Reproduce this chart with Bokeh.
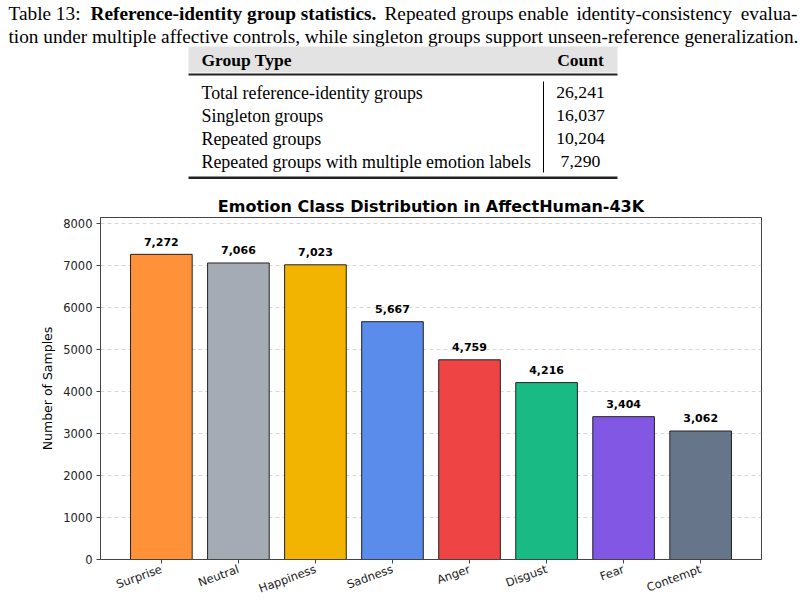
from bokeh.plotting import figure
from bokeh.models import Range1d, FixedTicker, ColumnDataSource
from bokeh.core.properties import value
from bokeh.embed import file_html
from bokeh.resources import INLINE

# ---- data ----
caption_label = "Table 13:"
caption_bold = "Reference-identity group statistics."
caption_rest1 = ["Repeated groups enable", "identity-consistency", "evalua-"]
caption_line2 = "tion under multiple affective controls, while singleton groups support unseen-reference generalization."

table_header = ["Group Type", "Count"]
group_types = ["Total reference-identity groups", "Singleton groups",
               "Repeated groups", "Repeated groups with multiple emotion labels"]
group_counts = [26241, 16037, 10204, 7290]

emotions = ["Surprise", "Neutral", "Happiness", "Sadness", "Anger", "Disgust", "Fear", "Contempt"]
samples = [7272, 7066, 7023, 5667, 4759, 4216, 3404, 3062]
colors = ["#FF9238", "#A5ABB5", "#F2B400", "#5A8CEB", "#EF4444", "#1ABA85", "#8257E3", "#66758A"]
y_ticks = [0, 1000, 2000, 3000, 4000, 5000, 6000, 7000, 8000]

chart_title = "Emotion Class Distribution in AffectHuman-43K"
y_label = "Number of Samples"

SERIF = value("Liberation Serif")
SANS = "DejaVu Sans"

# ---- top: caption + table (own root, pixel-like coordinates) ----
top = figure(width=808, height=190, x_range=Range1d(0, 808), y_range=Range1d(190, 0),
             min_border=0, outline_line_color=None, toolbar_location=None,
             output_backend="svg")
top.axis.visible = False
top.grid.visible = False


def t(x, y, text, size, style="normal", align="left"):
    top.text(x=[x], y=[y], text=[text], text_font=SERIF, text_font_size=size,
             text_font_style=style, text_align=align, text_baseline="middle",
             text_color="black")


# justified first caption line, set in chunks
t(8, 13, caption_label, "19.3px")
t(90, 13, caption_bold, "19.3px", "bold")
t(384, 13, caption_rest1[0], "19.3px")
t(576, 13, caption_rest1[1], "19.3px")
t(797, 13, caption_rest1[2], "19.3px", align="right")
t(8, 36, caption_line2, "19.3px")

top.quad(left=[188], right=[617], top=[46], bottom=[72], fill_color="#E3E3E3", line_color=None)
top.quad(left=[188], right=[617], top=[73], bottom=[75], fill_color="#222222", line_color=None)
top.quad(left=[188], right=[617], top=[176], bottom=[178.5], fill_color="#222222", line_color=None)
top.quad(left=[542.5], right=[543.5], top=[81], bottom=[172], fill_color="black", line_color=None)
t(201, 59, table_header[0], "17.5px", "bold")
t(580, 59, table_header[1], "17.5px", "bold", "center")
row_y = [92 + 23 * i for i in range(len(group_types))]
top.text(x=[201] * len(group_types), y=row_y, text=group_types, text_font=SERIF,
         text_font_size="17.9px", text_baseline="middle", text_color="black")
top.text(x=[580] * len(group_counts), y=row_y, text=[f"{c:,}" for c in group_counts],
         text_font=SERIF, text_font_size="17.7px", text_baseline="middle",
         text_align="center", text_color="black")

# ---- bottom: bar chart ----
p = figure(width=808, height=415, x_range=Range1d(-0.79, len(emotions) - 1 + 0.79),
           y_range=Range1d(0, 8150), toolbar_location=None, output_backend="svg",
           min_border_left=100, min_border_right=47, min_border_top=27, min_border_bottom=46,
           title=chart_title)
p.title.align = "center"
p.title.text_font = SANS
p.title.text_font_size = "16px"
p.title.text_font_style = "bold"
p.title.text_color = "black"
p.title.standoff = 4
p.outline_line_color = "#444444"
p.outline_line_width = 1

src = ColumnDataSource(dict(x=list(range(len(emotions))), top=samples, color=colors,
                            label=[f"{v:,}" for v in samples],
                            ly=[v + 210 for v in samples]))
p.vbar(x="x", top="top", width=0.8, bottom=0, fill_color="color", line_color="#222222",
       line_width=1, source=src)
p.text(x="x", y="ly", text="label", source=src, text_font=value(SANS), text_font_size="11px",
       text_font_style="bold", text_align="center", text_baseline="bottom", text_color="black")

p.xgrid.visible = False
p.ygrid.grid_line_color = "#cccccc"
p.ygrid.grid_line_dash = "4 3"
p.ygrid.grid_line_alpha = 0.8
p.ygrid.ticker = FixedTicker(ticks=y_ticks)

p.yaxis.ticker = FixedTicker(ticks=y_ticks)
p.xaxis.ticker = FixedTicker(ticks=list(range(len(emotions))))
p.xaxis.major_label_overrides = {i: e for i, e in enumerate(emotions)}
p.xaxis.major_label_orientation = 0.35
p.yaxis.axis_label = y_label
for ax in (p.xaxis, p.yaxis):
    ax.major_label_text_font = SANS
    ax.major_label_text_font_size = "11.5px"
    ax.major_label_text_color = "#222222"
    ax.axis_line_color = "#444444"
    ax.major_tick_line_color = "#444444"
    ax.major_tick_out = 4
    ax.major_tick_in = 0
    ax.minor_tick_line_color = None
    ax.axis_label_text_font = SANS
    ax.axis_label_text_font_size = "12.5px"
    ax.axis_label_text_font_style = "normal"
    ax.axis_label_text_color = "black"
p.yaxis.major_label_standoff = 4
p.xaxis.major_label_standoff = 5

# two independent roots so the caption/table figure keeps its full-width frame
open("out.html", "w").write(file_html([top, p], INLINE))
